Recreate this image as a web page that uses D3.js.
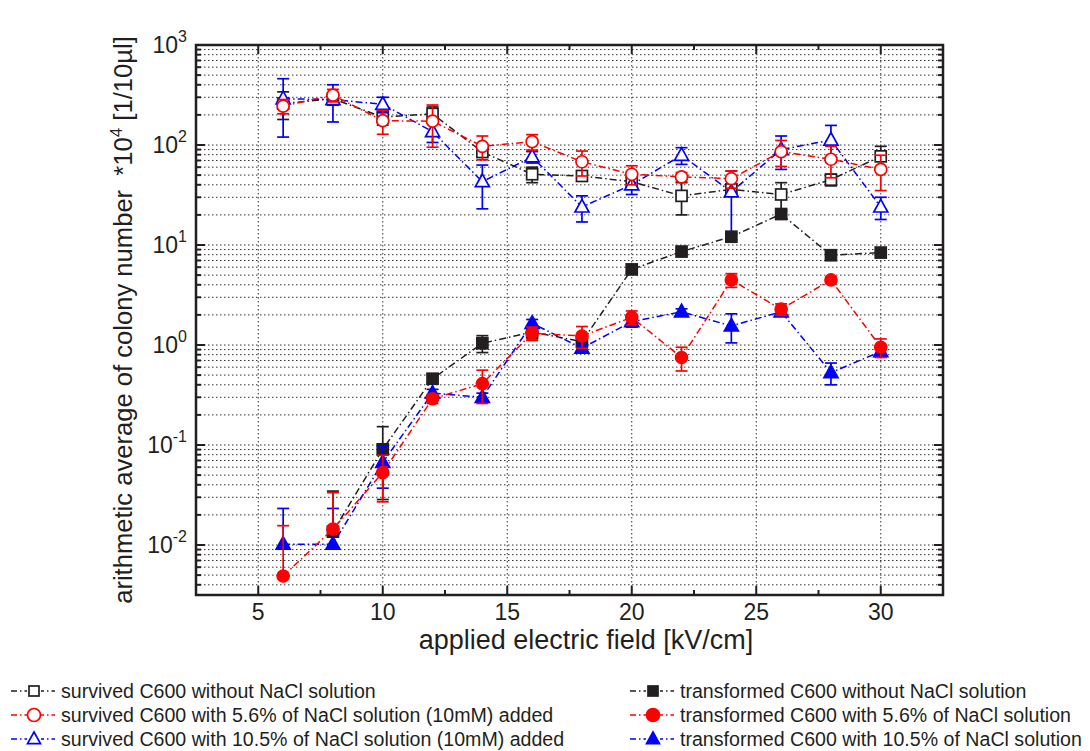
<!DOCTYPE html>
<html>
<head>
<meta charset="utf-8">
<script src="https://cdn.jsdelivr.net/npm/d3@7"></script>
<style>
  body { margin: 0; background: #fff; }
  text { font-family: "Liberation Sans", Arial, sans-serif; fill: #231f20; white-space: pre; }
</style>
</head>
<body>
<svg id="chart" width="1090" height="751"></svg>
<script>
// Applied electric field (kV/cm)
const fieldKV = [6, 8, 10, 12, 14, 16, 18, 20, 22, 24, 26, 28, 30];

// Survived colonies (*10^4 per 10 µl), mean and standard deviation
const survivedNoSalt      = [260, 290, 190, 205, 85, 51, 49, 43, 31, 36, 32, 45, 77];
const survivedNoSaltSD    = [80, 40, 32, 35, 8, 9, 4, 5, 11, 4, 10, 6, 20];
const survivedSalt56      = [245, 315, 175, 173, 97, 108, 68, 51, 48, 46, 86, 72, 57];
const survivedSalt56SD    = [40, 45, 47, 78, 26, 19, 19, 11, 5, 9, 25, 25, 22];
const survivedSalt105     = [290, 285, 255, 136, 43, 76, 24, 40, 79, 34, 90, 112, 24];
const survivedSalt105SD   = [170, 115, 45, 30, 20, 10, 7, 8, 15, 21, 33, 45, 6];

// Transformed colonies (*10^4 per 10 µl), mean and standard deviation
const transformedNoSalt    = [null, 0.0136, 0.0905, 0.46, 1.04, 1.35, 1.08, 5.7, 8.6, 12.1, 20.4, 7.9, 8.4];
const transformedNoSaltSD  = [null, 0.021, 0.062, 0.05, 0.2, 0.2, 0.1, 0.3, 0.4, 0.8, 1.5, 0.8, 0.5];
const transformedSalt56    = [0.0049, 0.0144, 0.053, 0.29, 0.41, 1.31, 1.23, 1.89, 0.75, 4.47, 2.28, 4.47, 0.95];
const transformedSalt56SD  = [0.0107, 0.019, 0.026, 0.03, 0.15, 0.2, 0.3, 0.3, 0.2, 0.7, 0.3, 0.3, 0.2];
const transformedSalt105   = [0.0102, 0.0102, 0.067, 0.33, 0.30, 1.65, 0.93, 1.71, 2.15, 1.55, 2.15, 0.53, 0.86];
const transformedSalt105SD = [0.013, 0.013, 0.03, 0.03, 0.03, 0.15, 0.1, 0.2, 0.15, 0.5, 0.2, 0.13, 0.1];

const xTicks = [5, 10, 15, 20, 25, 30];
const yDecades = [-2, -1, 0, 1, 2, 3];

const legendLabels = [
  "survived C600 without NaCl solution",
  "survived C600 with 5.6% of NaCl solution (10mM) added",
  "survived C600 with 10.5% of NaCl solution (10mM) added",
  "transformed C600 without NaCl solution",
  "transformed C600 with 5.6% of NaCl solution",
  "transformed C600 with 10.5% of NaCl solution"
];

const BLACK = "#231f20", RED = "#ff0000", BLUE = "#0000ff";

const series = [
  { values: survivedNoSalt,     sd: survivedNoSaltSD,     color: BLACK, shape: "square",   filled: false, label: legendLabels[0] },
  { values: survivedSalt105,    sd: survivedSalt105SD,    color: BLUE,  shape: "triangle", filled: false, label: legendLabels[2] },
  { values: survivedSalt56,     sd: survivedSalt56SD,     color: RED,   shape: "circle",   filled: false, label: legendLabels[1] },
  { values: transformedNoSalt,  sd: transformedNoSaltSD,  color: BLACK, shape: "square",   filled: true,  label: legendLabels[3] },
  { values: transformedSalt105, sd: transformedSalt105SD, color: BLUE,  shape: "triangle", filled: true,  label: legendLabels[5] },
  { values: transformedSalt56,  sd: transformedSalt56SD,  color: RED,   shape: "circle",   filled: true,  label: legendLabels[4] }
];

const svg = d3.select("#chart");
const L = 196, R = 943, T = 45, B = 595;

const x = d3.scaleLinear().domain([2.5, 32.5]).range([L, R]);
const y = d3.scaleLog().domain([Math.pow(10, -2.5), 1000]).range([B, T]);

// grid
const grid = svg.append("g").attr("stroke", "#333").attr("stroke-width", 1)
  .attr("stroke-dasharray", "1.5,2.5").attr("fill", "none");
xTicks.forEach(t => {
  grid.append("line").attr("x1", x(t)).attr("x2", x(t)).attr("y1", T).attr("y2", B);
});
const yGridVals = [];
for (let e = -3; e <= 2; e++) for (let m = 1; m <= 9; m++) {
  const v = m * Math.pow(10, e);
  if (v >= y.domain()[0] * 1.0001 && v < 1000) yGridVals.push({ v, major: m === 1 });
}
yGridVals.forEach(g => {
  grid.append("line").attr("x1", L).attr("x2", R).attr("y1", y(g.v)).attr("y2", y(g.v));
});

// ticks (inward, all four sides)
const ticks = svg.append("g").attr("stroke", BLACK).attr("stroke-width", 2);
const xMinor = [7.5, 12.5, 17.5, 22.5, 27.5];
xTicks.forEach(t => {
  ticks.append("line").attr("x1", x(t)).attr("x2", x(t)).attr("y1", B).attr("y2", B - 9);
  ticks.append("line").attr("x1", x(t)).attr("x2", x(t)).attr("y1", T).attr("y2", T + 9);
});
xMinor.forEach(t => {
  ticks.append("line").attr("x1", x(t)).attr("x2", x(t)).attr("y1", B).attr("y2", B - 5);
  ticks.append("line").attr("x1", x(t)).attr("x2", x(t)).attr("y1", T).attr("y2", T + 5);
});
yGridVals.concat([{ v: 1000, major: true }]).forEach(g => {
  const len = g.major ? 9 : 5;
  ticks.append("line").attr("x1", L).attr("x2", L + len).attr("y1", y(g.v)).attr("y2", y(g.v));
  ticks.append("line").attr("x1", R).attr("x2", R - len).attr("y1", y(g.v)).attr("y2", y(g.v));
});

// frame
svg.append("rect").attr("x", L).attr("y", T).attr("width", R - L).attr("height", B - T)
  .attr("fill", "none").attr("stroke", BLACK).attr("stroke-width", 2.5);

// tick labels
xTicks.forEach(t => {
  svg.append("text").attr("x", x(t)).attr("y", 620).attr("text-anchor", "middle")
    .attr("font-size", 23).text(t);
});
yDecades.forEach(e => {
  const t = svg.append("text").attr("x", 187).attr("y", y(Math.pow(10, e)) + 8)
    .attr("text-anchor", "end").attr("font-size", 23);
  t.append("tspan").text("10");
  t.append("tspan").attr("dy", -11).attr("font-size", 16).text(e);
});

// axis titles
svg.append("text").attr("x", 586).attr("y", 649).attr("text-anchor", "middle")
  .attr("font-size", 27).text("applied electric field [kV/cm]");
const yt = svg.append("text").attr("transform", `translate(132,${(T + B) / 2}) rotate(-90)`)
  .attr("text-anchor", "middle").attr("font-size", 25.6);
yt.append("tspan").text("arithmetic average of colony number  *10");
yt.append("tspan").attr("dy", -10).attr("font-size", 17).text("4");
yt.append("tspan").attr("dy", 10).text(" [1/10\u00b5l]");

// markers
function drawMarker(g, cx, cy, s, size) {
  const fill = s.filled ? s.color : "#fff";
  const sw = 1.7;
  if (s.shape === "square") {
    const h = (size || 11) / 2;
    g.append("rect").attr("x", cx - h).attr("y", cy - h).attr("width", 2 * h).attr("height", 2 * h)
      .attr("fill", fill).attr("stroke", s.color).attr("stroke-width", sw);
  } else if (s.shape === "circle") {
    g.append("circle").attr("cx", cx).attr("cy", cy).attr("r", (size || 12) / 2)
      .attr("fill", fill).attr("stroke", s.color).attr("stroke-width", sw);
  } else {
    const w = (size || 14) / 2, hgt = (size || 14) * 0.9;
    const pts = [[cx, cy - hgt * 0.6], [cx + w, cy + hgt * 0.4], [cx - w, cy + hgt * 0.4]];
    g.append("polygon").attr("points", pts.map(p => p.join(",")).join(" "))
      .attr("fill", fill).attr("stroke", s.color).attr("stroke-width", sw);
  }
}

const plot = svg.append("g");
const lineGen = d3.line().defined(d => d.v != null).x(d => x(d.x)).y(d => y(d.v));

series.forEach(s => {
  const pts = fieldKV.map((f, i) => ({ x: f, v: s.values[i], sd: s.sd[i] }));
  const g = plot.append("g");
  g.append("path").datum(pts).attr("d", lineGen).attr("fill", "none")
    .attr("stroke", s.color).attr("stroke-width", 1.5).attr("stroke-dasharray", "7,3,1.5,3");
  // error bars
  pts.filter(d => d.v != null).forEach(d => {
    const cx = x(d.x);
    const hi = y(d.v + d.sd);
    const lo = d.v - d.sd > 0 ? y(d.v - d.sd) : y(d.v);
    g.append("line").attr("x1", cx).attr("x2", cx).attr("y1", hi).attr("y2", lo)
      .attr("stroke", s.color).attr("stroke-width", 1.7);
    g.append("line").attr("x1", cx - 6).attr("x2", cx + 6).attr("y1", hi).attr("y2", hi)
      .attr("stroke", s.color).attr("stroke-width", 1.7);
    if (d.v - d.sd > 0) {
      g.append("line").attr("x1", cx - 6).attr("x2", cx + 6).attr("y1", lo).attr("y2", lo)
        .attr("stroke", s.color).attr("stroke-width", 1.7);
    }
  });
  pts.filter(d => d.v != null).forEach(d => drawMarker(g, x(d.x), y(d.v), s));
});

// legend
const legendOrder = [
  { s: series[0], col: 0, row: 0 }, { s: series[2], col: 0, row: 1 }, { s: series[1], col: 0, row: 2 },
  { s: series[3], col: 1, row: 0 }, { s: series[5], col: 1, row: 1 }, { s: series[4], col: 1, row: 2 }
];
const legendX = [11, 630], legendY = [691, 715, 739];
legendOrder.forEach(item => {
  const lx = legendX[item.col], ly = legendY[item.row];
  const g = svg.append("g");
  g.append("line").attr("x1", lx).attr("x2", lx + 44).attr("y1", ly).attr("y2", ly)
    .attr("stroke", item.s.color).attr("stroke-width", 1.3).attr("stroke-dasharray", "6,3,1.5,3");
  g.append("rect").attr("x", lx + 16).attr("y", ly - 7).attr("width", 14).attr("height", 14).attr("fill", "#fff");
  drawMarker(g, lx + 23, ly, item.s, item.s.shape === "square" ? 10 : 13);
  g.append("text").attr("x", lx + 50).attr("y", ly + 6.5).attr("font-size", 19.6).text(item.s.label);
});
</script>
</body>
</html>
